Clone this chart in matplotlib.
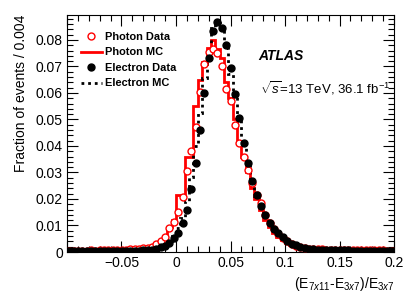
import numpy as np
import matplotlib
matplotlib.use("Agg")
import matplotlib.pyplot as plt
from matplotlib.ticker import MultipleLocator, FuncFormatter
from matplotlib.lines import Line2D

plt.rcParams["font.family"] = ["Liberation Sans", "DejaVu Sans"]
plt.rcParams["mathtext.fontset"] = "custom"
plt.rcParams["mathtext.rm"] = "Liberation Sans"
plt.rcParams["mathtext.it"] = "Liberation Sans:italic"
plt.rcParams["mathtext.bf"] = "Liberation Sans:bold"

# histogram binning: 75 bins of 0.004 between -0.1 and 0.2
x_lo, x_hi, bin_width = -0.1, 0.2, 0.004
n_bins = 75

# fraction of events per bin
photon_data = [
    0.0004, 0.0005, 0.0004, 0.0005, 0.0005, 0.0006, 0.0005, 0.0006, 0.0006, 0.0007,
    0.0007, 0.0008, 0.0008, 0.0009, 0.0010, 0.0011, 0.0012, 0.0014,
    0.0016, 0.0020, 0.0030, 0.0042, 0.0058, 0.0090, 0.0114,
    0.0152, 0.0206, 0.0304, 0.0382, 0.0470, 0.0603, 0.0708, 0.0755,
    0.0765, 0.0752, 0.0700, 0.0614, 0.0571, 0.0480, 0.0410, 0.0360, 0.0310,
    0.0260, 0.0215, 0.0185, 0.0140, 0.0108, 0.0085, 0.0068, 0.0052, 0.0040, 0.0030,
    0.0023, 0.0018, 0.0014, 0.0012,
    0.0011, 0.0010, 0.0010, 0.0009, 0.0009, 0.0008, 0.0008, 0.0008, 0.0007, 0.0007,
    0.0007, 0.0007, 0.0006, 0.0006, 0.0006, 0.0006, 0.0006, 0.0005, 0.0005,
]
photon_mc = [
    0.0005, 0.0006, 0.0005, 0.0006, 0.0006, 0.0006, 0.0006, 0.0007, 0.0006, 0.0007,
    0.0007, 0.0008, 0.0008, 0.0009, 0.0009, 0.0010, 0.0011, 0.0013,
    0.0016, 0.0022, 0.0035, 0.0043, 0.0052, 0.0096, 0.0121,
    0.0215, 0.0215, 0.0360, 0.0360, 0.0552, 0.0650, 0.0718, 0.0769,
    0.0800, 0.0765, 0.0730, 0.0640, 0.0580, 0.0500, 0.0410, 0.0360, 0.0300,
    0.0240, 0.0200, 0.0160, 0.0120, 0.0095, 0.0072, 0.0058, 0.0045, 0.0035, 0.0026,
    0.0020, 0.0016, 0.0013, 0.0011,
    0.0010, 0.0009, 0.0009, 0.0008, 0.0008, 0.0008, 0.0007, 0.0007, 0.0007, 0.0006,
    0.0006, 0.0006, 0.0006, 0.0006, 0.0005, 0.0005, 0.0005, 0.0005, 0.0005,
]
electron_data = [
    0.0003, 0.0002, 0.0003, 0.0003, 0.0002, 0.0003, 0.0003, 0.0003, 0.0003, 0.0004,
    0.0003, 0.0004, 0.0004, 0.0004, 0.0005, 0.0004, 0.0005, 0.0006,
    0.0007, 0.0009, 0.0012, 0.0017, 0.0024, 0.0034, 0.0052,
    0.0073, 0.0108, 0.0158, 0.0237, 0.0337, 0.0460, 0.0600, 0.0730,
    0.0834, 0.0867, 0.0844, 0.0780, 0.0693, 0.0596, 0.0505, 0.0412, 0.0337,
    0.0267, 0.0216, 0.0172, 0.0140, 0.0108, 0.0085, 0.0070, 0.0055, 0.0042, 0.0032,
    0.0025, 0.0019, 0.0015, 0.0012,
    0.0010, 0.0009, 0.0008, 0.0008, 0.0007, 0.0007, 0.0006, 0.0006, 0.0006, 0.0005,
    0.0005, 0.0005, 0.0005, 0.0004, 0.0004, 0.0004, 0.0004, 0.0004, 0.0003,
]
electron_mc = [
    0.0002, 0.0002, 0.0002, 0.0003, 0.0003, 0.0003, 0.0003, 0.0003, 0.0004, 0.0004,
    0.0004, 0.0004, 0.0005, 0.0005, 0.0005, 0.0006, 0.0006, 0.0007,
    0.0008, 0.0011, 0.0015, 0.0021, 0.0030, 0.0042, 0.0062,
    0.0090, 0.0130, 0.0192, 0.0282, 0.0400, 0.0523, 0.0655, 0.0760,
    0.0845, 0.0865, 0.0848, 0.0770, 0.0672, 0.0585, 0.0495, 0.0405, 0.0330,
    0.0262, 0.0210, 0.0168, 0.0133, 0.0104, 0.0082, 0.0065, 0.0051, 0.0040, 0.0031,
    0.0024, 0.0019, 0.0015, 0.0012,
    0.0010, 0.0009, 0.0008, 0.0007, 0.0007, 0.0006, 0.0006, 0.0005, 0.0005, 0.0005,
    0.0004, 0.0004, 0.0004, 0.0004, 0.0003, 0.0003, 0.0003, 0.0003, 0.0003,
]

legend_labels = ["Photon Data", "Photon MC", "Electron Data", "Electron MC"]

edges = x_lo + bin_width * np.arange(n_bins + 1)
centers = 0.5 * (edges[:-1] + edges[1:])

W, H = 415, 300
fig = plt.figure(figsize=(W / 100, H / 100), dpi=100)
ax = fig.add_axes([67 / W, 1 - 252 / H, 327 / W, 237 / H])

dotted = (0, (1, 1.4))
ax.stairs(photon_mc, edges, color="red", lw=2, zorder=2)
ax.stairs(electron_mc, edges, color="black", lw=2, ls=dotted, zorder=3)
ax.plot(centers, photon_data, "o", ms=5, mfc="white", mec="red", mew=1, zorder=4)
ax.plot(centers, electron_data, "o", ms=5, color="black", zorder=5)

ax.set_xlim(x_lo, x_hi)
ax.set_ylim(0, 0.0894)

ax.xaxis.set_major_locator(MultipleLocator(0.05))
ax.xaxis.set_minor_locator(MultipleLocator(0.01))
ax.yaxis.set_major_locator(MultipleLocator(0.01))
ax.yaxis.set_minor_locator(MultipleLocator(0.002))


def tick_fmt(v, pos):
    v = round(v, 4)
    if v <= x_lo + 1e-9 and v < 0:
        return ""  # ROOT leaves the left edge unlabelled
    return ("%g" % v).replace("-", "\u2212")


ax.xaxis.set_major_formatter(FuncFormatter(tick_fmt))
ax.yaxis.set_major_formatter(FuncFormatter(lambda v, p: "%g" % round(v, 4)))
ax.tick_params(which="both", direction="in", top=True, right=True, labelsize=10, width=0.8)
ax.tick_params(which="major", length=8, pad=3)
ax.tick_params(which="minor", length=4)
for s in ax.spines.values():
    s.set_linewidth(0.8)

fig.text(21 / W, 1 - 15 / H, "Fraction of events / 0.004", rotation=90,
         rotation_mode="anchor", ha="right", va="center", fontsize=10)
fig.text(395 / W, 12 / H, r"(E$_{7x11}$-E$_{3x7}$)/E$_{3x7}$",
         ha="right", va="baseline", fontsize=10)

fig.text(258 / W, 240 / H, "ATLAS", fontsize=10, fontweight="bold", fontstyle="italic",
         va="baseline")
fig.text(260 / W, 207 / H, r"$\sqrt{s}$=13 TeV, 36.1 fb$^{-1}$", fontsize=9.5,
         va="baseline")

handles = [
    Line2D([], [], ls="none", marker="o", ms=5, mfc="white", mec="red", mew=1),
    Line2D([], [], color="red", lw=2),
    Line2D([], [], ls="none", marker="o", ms=5, color="black"),
    Line2D([], [], color="black", lw=2, ls=dotted),
]
ax.legend(handles, legend_labels, loc="upper left", bbox_to_anchor=(81 / W, 1 - 32 / H),
          bbox_transform=fig.transFigure, frameon=False, borderpad=0, borderaxespad=0,
          handlelength=1.9, handletextpad=0.25, labelspacing=0.5,
          prop={"weight": "bold", "size": 7.9})

fig.savefig("out.png", dpi=100)
